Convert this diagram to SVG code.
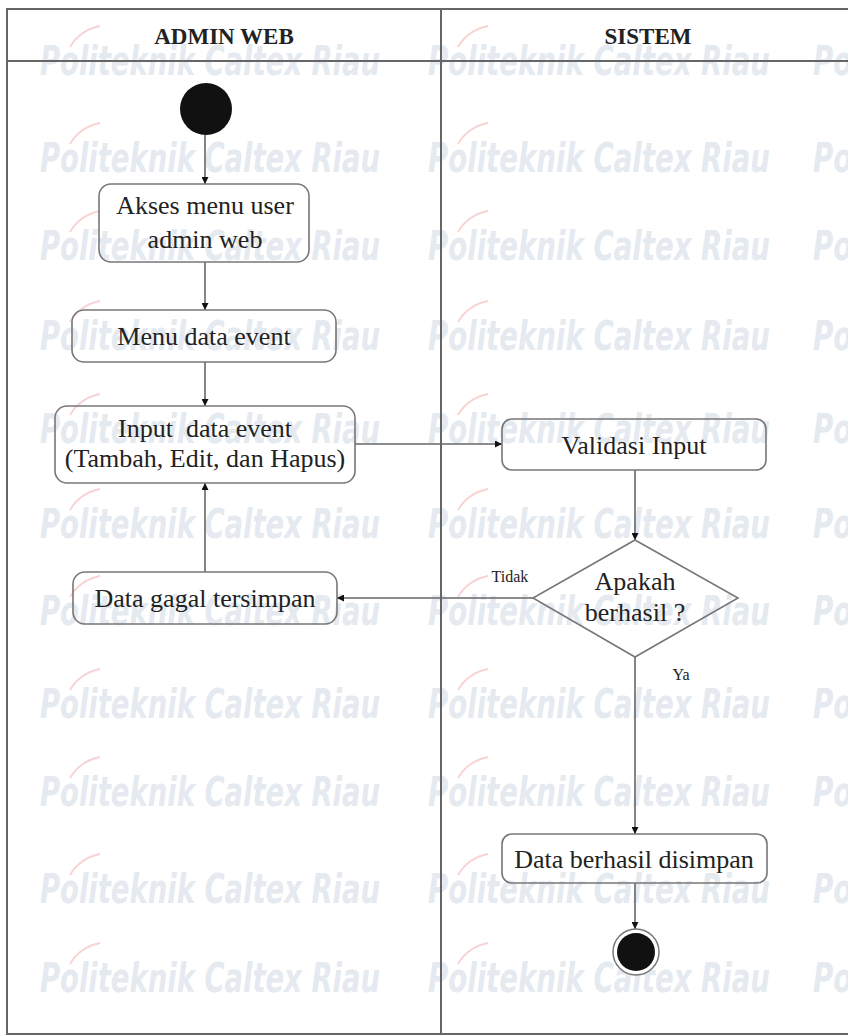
<svg xmlns="http://www.w3.org/2000/svg" width="848" height="1036" viewBox="0 0 848 1036">
<defs>
<style>
.wm{font-family:"DejaVu Sans Condensed","Liberation Sans",sans-serif;font-style:italic;font-weight:bold;font-size:40px;fill:#e4eaf0}
.sw{fill:none;stroke:#f8d3d3;stroke-width:1.8}
.frame{fill:none;stroke:#666;stroke-width:2}
.hd{font-family:"Liberation Serif",serif;font-weight:bold;font-size:23px;fill:#222;text-anchor:middle}
.box{fill:none;stroke:#777;stroke-width:1.6}
.t{font-family:"Liberation Serif",serif;font-size:26px;fill:#222;text-anchor:middle;white-space:pre}
.s{font-family:"Liberation Serif",serif;font-size:16px;fill:#222;text-anchor:middle}
.c{fill:none;stroke:#666;stroke-width:1.6}
</style>
<marker id="ah" viewBox="0 0 10 10" refX="10" refY="5" markerWidth="7" markerHeight="7" markerUnits="userSpaceOnUse" orient="auto">
<path d="M0,0 L10,5 L0,10 z" fill="#111"/>
</marker>
</defs>
<rect width="848" height="1036" fill="#fff"/>
<g id="watermark">
<text class="wm" x="40" y="75" textLength="340" lengthAdjust="spacingAndGlyphs">Politeknik Caltex Riau</text>
<text class="wm" x="428" y="75" textLength="342" lengthAdjust="spacingAndGlyphs">Politeknik Caltex Riau</text>
<text class="wm" x="813" y="75" textLength="342" lengthAdjust="spacingAndGlyphs">Politeknik Caltex Riau</text>
<text class="wm" x="40" y="172" textLength="340" lengthAdjust="spacingAndGlyphs">Politeknik Caltex Riau</text>
<text class="wm" x="428" y="172" textLength="342" lengthAdjust="spacingAndGlyphs">Politeknik Caltex Riau</text>
<text class="wm" x="813" y="172" textLength="342" lengthAdjust="spacingAndGlyphs">Politeknik Caltex Riau</text>
<text class="wm" x="40" y="260" textLength="340" lengthAdjust="spacingAndGlyphs">Politeknik Caltex Riau</text>
<text class="wm" x="428" y="260" textLength="342" lengthAdjust="spacingAndGlyphs">Politeknik Caltex Riau</text>
<text class="wm" x="813" y="260" textLength="342" lengthAdjust="spacingAndGlyphs">Politeknik Caltex Riau</text>
<text class="wm" x="40" y="350" textLength="340" lengthAdjust="spacingAndGlyphs">Politeknik Caltex Riau</text>
<text class="wm" x="428" y="350" textLength="342" lengthAdjust="spacingAndGlyphs">Politeknik Caltex Riau</text>
<text class="wm" x="813" y="350" textLength="342" lengthAdjust="spacingAndGlyphs">Politeknik Caltex Riau</text>
<text class="wm" x="40" y="443" textLength="340" lengthAdjust="spacingAndGlyphs">Politeknik Caltex Riau</text>
<text class="wm" x="428" y="443" textLength="342" lengthAdjust="spacingAndGlyphs">Politeknik Caltex Riau</text>
<text class="wm" x="813" y="443" textLength="342" lengthAdjust="spacingAndGlyphs">Politeknik Caltex Riau</text>
<text class="wm" x="40" y="538" textLength="340" lengthAdjust="spacingAndGlyphs">Politeknik Caltex Riau</text>
<text class="wm" x="428" y="538" textLength="342" lengthAdjust="spacingAndGlyphs">Politeknik Caltex Riau</text>
<text class="wm" x="813" y="538" textLength="342" lengthAdjust="spacingAndGlyphs">Politeknik Caltex Riau</text>
<text class="wm" x="40" y="625" textLength="340" lengthAdjust="spacingAndGlyphs">Politeknik Caltex Riau</text>
<text class="wm" x="428" y="625" textLength="342" lengthAdjust="spacingAndGlyphs">Politeknik Caltex Riau</text>
<text class="wm" x="813" y="625" textLength="342" lengthAdjust="spacingAndGlyphs">Politeknik Caltex Riau</text>
<text class="wm" x="40" y="718" textLength="340" lengthAdjust="spacingAndGlyphs">Politeknik Caltex Riau</text>
<text class="wm" x="428" y="718" textLength="342" lengthAdjust="spacingAndGlyphs">Politeknik Caltex Riau</text>
<text class="wm" x="813" y="718" textLength="342" lengthAdjust="spacingAndGlyphs">Politeknik Caltex Riau</text>
<text class="wm" x="40" y="806" textLength="340" lengthAdjust="spacingAndGlyphs">Politeknik Caltex Riau</text>
<text class="wm" x="428" y="806" textLength="342" lengthAdjust="spacingAndGlyphs">Politeknik Caltex Riau</text>
<text class="wm" x="813" y="806" textLength="342" lengthAdjust="spacingAndGlyphs">Politeknik Caltex Riau</text>
<text class="wm" x="40" y="903" textLength="340" lengthAdjust="spacingAndGlyphs">Politeknik Caltex Riau</text>
<text class="wm" x="428" y="903" textLength="342" lengthAdjust="spacingAndGlyphs">Politeknik Caltex Riau</text>
<text class="wm" x="813" y="903" textLength="342" lengthAdjust="spacingAndGlyphs">Politeknik Caltex Riau</text>
<text class="wm" x="40" y="992" textLength="340" lengthAdjust="spacingAndGlyphs">Politeknik Caltex Riau</text>
<text class="wm" x="428" y="992" textLength="342" lengthAdjust="spacingAndGlyphs">Politeknik Caltex Riau</text>
<text class="wm" x="813" y="992" textLength="342" lengthAdjust="spacingAndGlyphs">Politeknik Caltex Riau</text>
<path class="sw" d="M70,47 Q80,30 100,26 M458,47 Q468,30 488,26 M70,144 Q80,127 100,123 M458,144 Q468,127 488,123 M70,232 Q80,215 100,211 M458,232 Q468,215 488,211 M70,322 Q80,305 100,301 M458,322 Q468,305 488,301 M70,415 Q80,398 100,394 M458,415 Q468,398 488,394 M70,510 Q80,493 100,489 M458,510 Q468,493 488,489 M70,597 Q80,580 100,576 M458,597 Q468,580 488,576 M70,690 Q80,673 100,669 M458,690 Q468,673 488,669 M70,778 Q80,761 100,757 M458,778 Q468,761 488,757 M70,875 Q80,858 100,854 M458,875 Q468,858 488,854 M70,964 Q80,947 100,943 M458,964 Q468,947 488,943"/>
</g>
<g id="swimlanes">
<path class="frame" d="M870,9 L7,9 L7,1034 L870,1034"/>
<line class="frame" x1="7" y1="61" x2="848" y2="61"/>
<line class="frame" x1="441" y1="9" x2="441" y2="1034"/>
<text class="hd" x="224" y="44">ADMIN WEB</text>
<text class="hd" x="648" y="44">SISTEM</text>
</g>
<g id="connectors">
<line class="c" x1="205" y1="135" x2="205" y2="184" marker-end="url(#ah)"/>
<line class="c" x1="205" y1="262" x2="205" y2="310" marker-end="url(#ah)"/>
<line class="c" x1="205" y1="362" x2="205" y2="406" marker-end="url(#ah)"/>
<line class="c" x1="355" y1="444" x2="502" y2="444" marker-end="url(#ah)"/>
<line class="c" x1="635" y1="470" x2="635" y2="540" marker-end="url(#ah)"/>
<line class="c" x1="533" y1="598" x2="337" y2="598" marker-end="url(#ah)"/>
<line class="c" x1="205" y1="572" x2="205" y2="483" marker-end="url(#ah)"/>
<line class="c" x1="635" y1="657" x2="635" y2="834" marker-end="url(#ah)"/>
<line class="c" x1="635" y1="883" x2="635" y2="929" marker-end="url(#ah)"/>
<text class="s" x="510" y="582">Tidak</text>
<text class="s" x="681" y="680">Ya</text>
</g>
<g id="start">
<circle cx="206" cy="109" r="26" fill="#111"/>
</g>
<g id="akses-menu">
<rect class="box" x="99" y="184" width="210" height="78" rx="12"/>
<text class="t" x="205" y="214">Akses menu user</text>
<text class="t" x="205" y="248">admin web</text>
</g>
<g id="menu-data-event">
<rect class="box" x="72" y="310" width="264" height="52" rx="12"/>
<text class="t" x="204" y="345">Menu data event</text>
</g>
<g id="input-data-event">
<rect class="box" x="55" y="406" width="300" height="77" rx="12"/>
<text class="t" x="205" y="437">Input  data event</text>
<text class="t" x="205" y="467">(Tambah, Edit, dan Hapus)</text>
</g>
<g id="data-gagal">
<rect class="box" x="73" y="572" width="264" height="52" rx="12"/>
<text class="t" x="205" y="607">Data gagal tersimpan</text>
</g>
<g id="validasi-input">
<rect class="box" x="502" y="419" width="264" height="51" rx="10"/>
<text class="t" x="634" y="454">Validasi Input</text>
</g>
<g id="apakah-berhasil">
<polygon class="box" points="635,540 738,598 635,657 533,598"/>
<text class="t" x="635" y="590">Apakah</text>
<text class="t" x="635" y="621">berhasil ?</text>
</g>
<g id="data-berhasil">
<rect class="box" x="502" y="834" width="265" height="49" rx="10"/>
<text class="t" x="634" y="868">Data berhasil disimpan</text>
</g>
<g id="end">
<circle cx="636" cy="952" r="23" fill="#fff" stroke="#777" stroke-width="1.5"/>
<circle cx="636" cy="952" r="19" fill="#111"/>
</g>
</svg>
